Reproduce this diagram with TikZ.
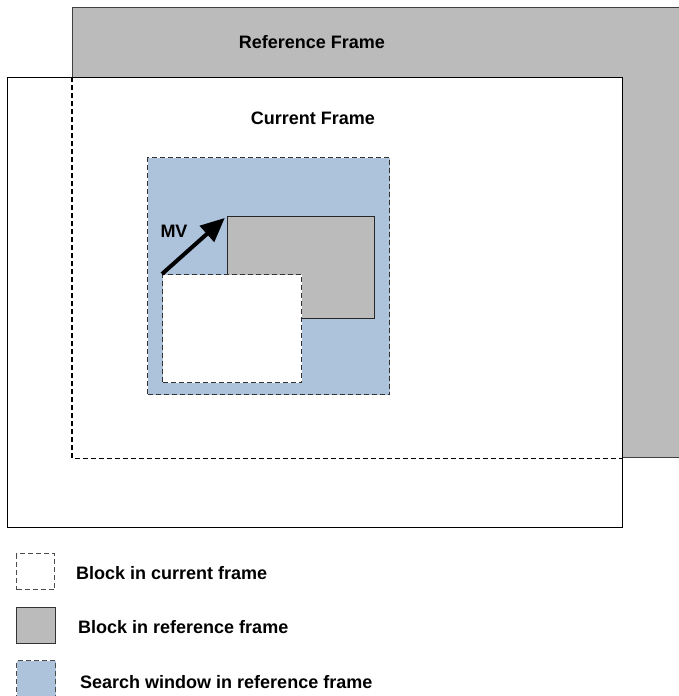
\documentclass[tikz,border=0pt]{standalone}
\usepackage{fontspec}
\setmainfont{Liberation Sans}
\usetikzlibrary{arrows.meta}
\definecolor{refgray}{RGB}{187,187,187}
\definecolor{winblue}{RGB}{173,194,219}
\begin{document}
\begin{tikzpicture}[x=1pt,y=-1pt,
  box/.style={rectangle,inner sep=0pt,anchor=north west},
  lbl/.style={font=\fontsize{18}{20}\selectfont\bfseries, inner sep=0pt},
  dsh/.style={dash pattern=on 5pt off 3pt},
]
\useasboundingbox (0,0) rectangle (679,696);
% reference frame
\node[box, fill=refgray, draw=black!75, line width=1.3pt, minimum width=620pt, minimum height=450pt] (ref) at (72,7) {};
% current frame
\node[box, fill=white, draw=black, line width=1.3pt, minimum width=615pt, minimum height=450pt] (cur) at (7,77) {};
% hidden outline of reference frame
\draw[dsh, line width=1.1pt] (ref.west |- cur.north) -- (ref.south west) -- (ref.south -| cur.east);
% search window
\node[box, fill=winblue, draw=black!80, dsh, line width=1.1pt, minimum width=242pt, minimum height=237pt] (win) at (147,157) {};
% block in reference frame
\node[box, fill=refgray, draw=black!85, line width=1.1pt, minimum width=147pt, minimum height=102pt] (blkref) at (227,216) {};
% block in current frame
\node[box, fill=white, draw=black!80, dsh, line width=1.1pt, minimum width=139pt, minimum height=108pt] (blkcur) at (162,274) {};
% motion vector
\draw[line width=4pt, -{Triangle[length=24pt,width=21pt]}, shorten >=3pt] (blkcur.north west) -- (blkref.north west);
% labels
\node[lbl] (reflbl) at (312,42) {Reference Frame};
\node[lbl] (curlbl) at (313,118) {Current Frame};
\node[lbl] (mvlbl) at (174,231) {MV};
% legend
\node[box, fill=white, draw=black!70, dsh, line width=1.1pt, minimum width=38pt, minimum height=36pt] (lg1) at (16,553) {};
\node[box, fill=refgray, draw=black!80, line width=1.1pt, minimum width=39pt, minimum height=36pt] (lg2) at (16,607) {};
\node[box, fill=winblue, draw=black!70, dsh, line width=1.1pt, minimum width=39pt, minimum height=40pt] (lg3) at (16,660) {};
\node[lbl, anchor=west] (lt1) at (76,573) {Block in current frame};
\node[lbl, anchor=west] (lt2) at (78,627) {Block in reference frame};
\node[lbl, anchor=west] (lt3) at (80,682) {Search window in reference frame};
\end{tikzpicture}
\end{document}
